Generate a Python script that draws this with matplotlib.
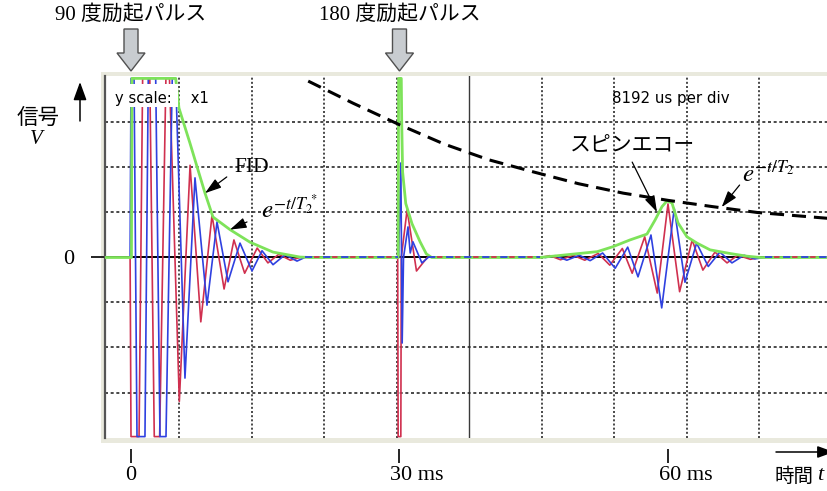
import matplotlib
matplotlib.use("Agg")
import matplotlib.pyplot as plt
from matplotlib.patches import Rectangle, Polygon, FancyArrowPatch
from matplotlib import transforms

plt.rcParams["mathtext.fontset"] = "stix"

W, H = 828, 491

# ---- signal data: time in ms, amplitude in screen divisions ----
pulse_times = [0, 30]
pulse_labels = ["90 度励起パルス", "180 度励起パルス"]

# free induction decay (two quadrature channels, clipped at the screen edge)
fid_red_t = [-0.1, 0.0, 0.9, 1.3, 2.1, 2.6, 3.2, 3.9, 4.3, 5.4, 6.6, 7.8, 9.05,
             10.4, 11.5, 12.7, 14.1, 15.3, 16.5, 17.8, 18.9]
fid_red_v = [0, -3.98, -3.98, 3.98, 3.98, -3.98, -3.98, 3.98, 3.98, -3.2, 2.05,
             -1.43, 0.94, -0.7, 0.39, -0.35, 0.21, -0.12, 0.07, -0.06, 0]
fid_blue_t = [-0.1, 0.0, 0.34, 0.67, 1.56, 1.93, 2.76, 3.24, 3.91, 4.61, 4.99,
              6.03, 7.15, 8.49, 9.61, 10.84, 12.18, 13.52, 14.64, 15.87, 17.21,
              18.55, 19.4]
fid_blue_v = [0, 3.98, 3.98, -3.98, -3.98, 3.98, 3.98, -3.98, -3.98, 3.98, 3.98,
              -2.68, 1.77, -1.06, 0.79, -0.54, 0.32, -0.3, 0.15, -0.16, 0.06,
              -0.08, 0]

# response right after the 180 degree pulse
pulse_red_t = [29.8, 29.85, 30.15, 30.2, 30.85, 31.9, 33.1]
pulse_red_v = [0, -3.98, -3.98, 0, 1.06, -0.3, 0]
pulse_blue_t = [29.9, 30.15, 30.3, 30.45, 30.95, 31.2, 31.5, 32.5, 33.2]
pulse_blue_v = [0, 2.1, -1.9, 0, 0.68, 0.1, 0.35, -0.12, 0]

# spin echo
echo_red_t = [45.7, 46.8, 48.0, 49.4, 50.7, 52.2, 53.5, 54.9, 56.0, 57.4, 58.8,
              60.0, 61.3, 62.7, 63.9, 65.25, 66.6, 67.8, 69.2, 70.3]
echo_red_v = [0, 0.04, -0.05, 0.05, -0.06, 0.09, -0.17, 0.2, -0.35, 0.46, -0.79,
              1.19, -0.76, 0.39, -0.28, 0.12, -0.12, 0.05, -0.04, 0]
echo_blue_t = [46.3, 47.4, 48.7, 50.1, 51.3, 52.7, 54.1, 55.5, 56.65, 58.1, 59.3,
               60.7, 61.9, 63.2, 64.5, 65.8, 67.15, 68.5, 69.7, 70.8]
echo_blue_v = [0, 0.04, -0.06, 0.05, -0.07, 0.1, -0.24, 0.23, -0.43, 0.5, -1.12,
               1.09, -0.55, 0.32, -0.2, 0.12, -0.12, 0.05, -0.03, 0]

# magnitude envelope
env_t = [-2.9, 0.05, 0.1, 5.0, 5.36, 6.59, 8.27, 9.16, 11.06, 13.3, 15.87, 18.88,
         20.0, 29.85, 29.9, 30.2, 30.25, 30.35, 30.7, 31.4, 32.3, 33.0, 33.6,
         45.7, 52.1, 53.85, 55.75, 57.65, 58.55, 59.33, 59.9, 60.45, 61.12,
         62.12, 63.24, 64.7, 66.9, 68.8, 70.3, 77.9]
env_v = [0, 0, 3.98, 3.98, 3.32, 2.54, 1.43, 0.9, 0.62, 0.34, 0.12, 0.01,
         0, 0, 3.98, 3.98, 3.0, 1.9, 1.2, 0.75, 0.35, 0.08, 0,
         0, 0.13, 0.24, 0.39, 0.52, 0.83, 1.13, 1.26, 1.21, 0.77,
         0.46, 0.32, 0.17, 0.09, 0.03, 0, 0]

# T2 decay curve
t2_t = [19.8, 24.8, 30.0, 35.0, 40.0, 45.0, 50.0, 55.0, 60.0, 65.0, 70.0, 77.9]
t2_v = [3.92, 3.43, 2.95, 2.52, 2.17, 1.9, 1.64, 1.43, 1.27, 1.13, 1.0, 0.87]

xtick_vals = [0, 30, 60]
xtick_labels = ["0", "30 ms", "60 ms"]

RED = "#d0304f"
BLUE = "#2f41e0"
GREEN = "#7ee35a"
CJK = ["Liberation Serif", "Noto Sans CJK JP"]


def fxy(px, py):
    return (px / W, 1 - py / H)


fig = plt.figure(figsize=(W / 100, H / 100), dpi=100)

# beige scope frame behind the screen
fig.add_artist(Rectangle(fxy(101, 443), (W - 101) / W, (443 - 72) / H,
                         transform=fig.transFigure, facecolor="#e9e9dd",
                         edgecolor="none", zorder=0))

ax = fig.add_axes([105 / W, 1 - 438 / H, (W - 105) / W, (438 - 76) / H])
ax.set_facecolor("white")
ax.set_xlim(-2.905, 77.88)
ax.set_ylim((257.5 - 438) / 45, (257.5 - 76) / 45)

# screen graticule
div = 8.1
center = 37.77
for k in range(-4, 6):
    x = center + k * div
    if k == 0:
        ax.axvline(x, color="#3a3a3a", lw=1.0, zorder=1.5)
    else:
        ax.axvline(x, color="#2a2a2a", lw=1.2, linestyle=(0, (1.2, 1.3)), zorder=1.5)
for v in [-3, -2, -1, 1, 2, 3]:
    ax.axhline(v, color="#2a2a2a", lw=1.2, linestyle=(0, (1.8, 1.6)), zorder=1.5)
ax.axhline(0, color="black", lw=1.4, zorder=2)

# traces
for t, v in [(fid_red_t, fid_red_v), (pulse_red_t, pulse_red_v), (echo_red_t, echo_red_v)]:
    ax.plot(t, v, color=RED, lw=1.2, zorder=3)
for t, v in [(fid_blue_t, fid_blue_v), (pulse_blue_t, pulse_blue_v), (echo_blue_t, echo_blue_v)]:
    ax.plot(t, v, color=BLUE, lw=1.2, zorder=3)
ax.plot(env_t, env_v, color=GREEN, lw=2.0, zorder=4, solid_joinstyle="round")

# residual noise on the baseline between bursts
quiet = [(max(fid_red_t[-1], fid_blue_t[-1]), min(pulse_red_t[0], pulse_blue_t[0])),
         (max(pulse_red_t[-1], pulse_blue_t[-1]), min(echo_red_t[0], echo_blue_t[0])),
         (max(echo_red_t[-1], echo_blue_t[-1]), ax.get_xlim()[1])]
for a, b in quiet:
    ax.plot([a, b], [0, 0], color=BLUE, lw=1.3, linestyle=(0, (4, 6)), zorder=4.5)
    ax.plot([a, b], [0, 0], color=RED, lw=1.3, linestyle=(5, (3, 7)), zorder=4.5)

# T2 decay
ax.plot(t2_t, t2_v, color="black", lw=2.2, dashes=(4.6, 2.6), zorder=4.2)

# on-screen labels
ax.add_patch(Rectangle((-2.57, 3.34), 7.82, 0.52, facecolor="white",
                       edgecolor="none", zorder=5))
ax.text(-1.79, 3.43, "y scale:    x1", fontsize=10.6, family="DejaVu Sans",
        ha="left", va="baseline", zorder=6)
ax.text(60.34, 3.43, "8192 us per div", fontsize=10.8, family="DejaVu Sans",
        ha="center", va="baseline", zorder=6)

arrow_kw = dict(arrowstyle="-|>,head_length=0.5,head_width=0.16", color="black",
                lw=0.9, shrinkA=0, shrinkB=0, mutation_scale=20)
ax.text(13.5, 1.99, "FID", fontsize=15.5, family="Liberation Serif",
        ha="center", va="center", zorder=6)
ax.annotate("", xy=(8.27, 1.43), xytext=(10.7, 1.79), arrowprops=arrow_kw, zorder=6)
ax.text(14.5, 0.86, r"$e^{-t/T_2^{\,*}}$", fontsize=18, ha="left", va="baseline", zorder=6)
ax.annotate("", xy=(11.06, 0.62), xytext=(12.96, 0.79), arrowprops=arrow_kw, zorder=6)
ax.text(56.0, 2.46, "スピンエコー", fontsize=15, family=CJK,
        ha="center", va="center", zorder=6)
ax.annotate("", xy=(58.77, 1.01), xytext=(56.0, 2.12), arrowprops=arrow_kw, zorder=6)
ax.text(68.3, 1.68, r"$e^{-t/T_2}$", fontsize=18, ha="left", va="baseline", zorder=6)
ax.annotate("", xy=(66.0, 1.12), xytext=(68.0, 1.61), arrowprops=arrow_kw, zorder=6)

# axes decoration
for side in ["top", "right", "bottom"]:
    ax.spines[side].set_visible(False)
ax.spines["left"].set_color("#555555")
ax.spines["left"].set_linewidth(1.6)
ax.spines["bottom"].set_position(("outward", 8))
ax.set_yticks([0])
ax.set_yticklabels(["0"], fontfamily="Liberation Serif", fontsize=16)
ax.tick_params(axis="y", direction="out", length=10, width=1.2, pad=12)
ax.set_xticks(xtick_vals)
ax.set_xticklabels([])
ax.tick_params(axis="x", direction="out", length=10, width=1.2)

blend = transforms.blended_transform_factory(ax.transData, fig.transFigure)
for val, lab in zip(xtick_vals, xtick_labels):
    if " " in lab:
        tr = transforms.offset_copy(blend, fig=fig, x=-9, y=0, units="dots")
        ax.text(val, 1 - 476 / H, lab, transform=tr, ha="left", va="center",
                fontsize=16, family="Liberation Serif")
    else:
        ax.text(val, 1 - 476 / H, lab, transform=blend, ha="center", va="center",
                fontsize=16, family="Liberation Serif")

# excitation pulse markers above the screen
for t, lab in zip(pulse_times, pulse_labels):
    cx = ax.transData.transform((t, 0))[0]
    fig.text(cx / W, 1 - 15 / H, lab, ha="center", va="center", fontsize=15, family=CJK)
    pts = [(cx - 7, 29), (cx + 7, 29), (cx + 7, 53), (cx + 14, 53), (cx, 71),
           (cx - 14, 53), (cx - 7, 53)]
    fig.add_artist(Polygon([fxy(px, py) for px, py in pts], closed=True,
                           transform=fig.transFigure, facecolor="#c8ccd0",
                           edgecolor="#505050", lw=1.0, zorder=3))

# signal axis label
fig.text(*fxy(38, 118), "信号", ha="center", va="center", fontsize=15.5,
         family="Noto Sans CJK JP")
fig.text(*fxy(36, 139), "V", ha="center", va="center", fontsize=15,
         family="Liberation Serif", style="italic")
fig.add_artist(FancyArrowPatch(fxy(80, 121), fxy(80, 82), transform=fig.transFigure,
                               arrowstyle="-|>,head_length=0.55,head_width=0.2",
                               mutation_scale=20, color="black", lw=1.1,
                               shrinkA=0, shrinkB=0))

# time axis label
fig.add_artist(FancyArrowPatch(fxy(776, 452), fxy(834, 452), transform=fig.transFigure,
                               arrowstyle="-|>,head_length=0.5,head_width=0.18",
                               mutation_scale=20, color="black", lw=1.1,
                               shrinkA=0, shrinkB=0))
fig.text(*fxy(775, 476), "時間", ha="left", va="center", fontsize=14,
         family="Noto Sans CJK JP")
fig.text(*fxy(817, 476), "t", ha="left", va="center", fontsize=16,
         family="Liberation Serif", style="italic")

fig.savefig("out.png", dpi=100)
